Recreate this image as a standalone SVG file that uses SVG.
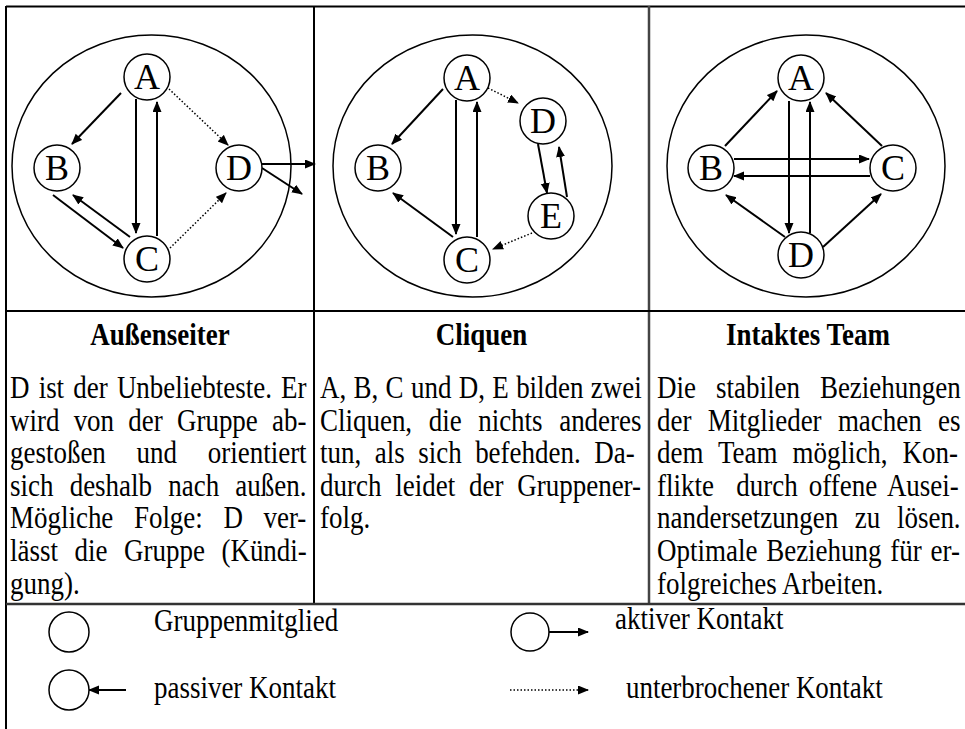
<svg xmlns="http://www.w3.org/2000/svg" width="965" height="729" viewBox="0 0 965 729">
<style>
.t{font-family:"Liberation Serif","Times New Roman",serif;font-size:31px;fill:#000}
.h{font-family:"Liberation Serif","Times New Roman",serif;font-size:31px;font-weight:bold;fill:#000;text-anchor:middle}
.n{font-family:"Liberation Serif","Times New Roman",serif;font-size:36px;fill:#000;text-anchor:middle}
.node{fill:#fff;stroke:#000;stroke-width:1.5}
.grp{fill:#fff;stroke:#000;stroke-width:1.5}
.a{stroke:#000;stroke-width:2;fill:none;marker-end:url(#ah)}
.d{stroke:#000;stroke-width:1.5;fill:none;stroke-dasharray:1.5 2;marker-end:url(#ah)}
.b{stroke:#000;stroke-width:2;fill:none}
</style>
<defs>
<marker id="ah" markerUnits="userSpaceOnUse" markerWidth="12" markerHeight="10" refX="10" refY="4.5" orient="auto">
<path d="M0,0 L11,4.5 L0,9 z" fill="#000"/>
</marker>
</defs>
<rect width="965" height="729" fill="#fff"/>
<g id="table">
<line class="b" x1="6" y1="6.5" x2="965" y2="6.5"/>
<line class="b" x1="6" y1="6" x2="6" y2="729"/>
<line class="b" x1="314" y1="6" x2="314" y2="604"/>
<line x1="649" y1="6" x2="649" y2="604" stroke="#444" stroke-width="2.5"/>
<line class="b" x1="6" y1="311" x2="965" y2="311"/>
<line x1="6" y1="604" x2="965" y2="604" stroke="#333" stroke-width="2.5"/>
</g>
<g id="group1"><ellipse class="grp" cx="151.5" cy="166" rx="139.5" ry="131"/></g>
<g id="group2"><ellipse class="grp" cx="472.5" cy="166" rx="139.5" ry="131"/></g>
<g id="group3"><ellipse class="grp" cx="806" cy="166" rx="139" ry="131"/></g>
<g id="connectors">
<line class="a" x1="121" y1="93" x2="72" y2="144"/>
<line class="a" x1="136" y1="99" x2="136" y2="233"/>
<line class="a" x1="157" y1="236" x2="157" y2="102"/>
<line class="a" x1="53" y1="195" x2="123" y2="248"/>
<line class="a" x1="130" y1="237" x2="73" y2="195"/>
<line class="d" x1="169" y1="89" x2="228" y2="145"/>
<line class="d" x1="170" y1="248" x2="226" y2="193"/>
<line class="a" x1="262" y1="164" x2="315" y2="164"/>
<line class="a" x1="262" y1="168" x2="302" y2="194"/>
<line class="a" x1="443" y1="89" x2="392" y2="144"/>
<line class="a" x1="456" y1="100" x2="456" y2="234"/>
<line class="a" x1="477" y1="237" x2="477" y2="102"/>
<line class="a" x1="453" y1="237" x2="393" y2="193"/>
<line class="d" x1="488" y1="88" x2="518" y2="103"/>
<line class="a" x1="538" y1="144" x2="547" y2="193"/>
<line class="a" x1="567" y1="197" x2="559" y2="147"/>
<line class="d" x1="532" y1="233" x2="493" y2="249"/>
<line class="a" x1="725" y1="146" x2="777" y2="91"/>
<line class="a" x1="882" y1="146" x2="826" y2="93"/>
<line class="a" x1="789" y1="101" x2="789" y2="233"/>
<line class="a" x1="810" y1="233" x2="810" y2="102"/>
<line class="a" x1="734" y1="159" x2="869" y2="159"/>
<line class="a" x1="870" y1="176" x2="734" y2="176"/>
<line class="a" x1="785" y1="237" x2="726" y2="195"/>
<line class="a" x1="823" y1="247" x2="881" y2="194"/>
<line class="a" x1="126" y1="690" x2="89" y2="690"/>
<line class="a" x1="549" y1="632" x2="588" y2="632"/>
<line class="d" x1="510" y1="690" x2="588" y2="690"/>
</g>
<g id="n1A"><circle class="node" cx="147" cy="77" r="23"/><text class="n" x="147" y="89">A</text></g>
<g id="n1B"><circle class="node" cx="57" cy="168" r="23"/><text class="n" x="57" y="180">B</text></g>
<g id="n1C"><circle class="node" cx="147" cy="259" r="23"/><text class="n" x="147" y="271">C</text></g>
<g id="n1D"><circle class="node" cx="239" cy="168" r="23"/><text class="n" x="239" y="180">D</text></g>
<g id="n2A"><circle class="node" cx="467" cy="78" r="23"/><text class="n" x="467" y="90">A</text></g>
<g id="n2B"><circle class="node" cx="378" cy="168" r="23"/><text class="n" x="378" y="180">B</text></g>
<g id="n2C"><circle class="node" cx="467" cy="260" r="23"/><text class="n" x="467" y="272">C</text></g>
<g id="n2D"><circle class="node" cx="543" cy="121" r="23"/><text class="n" x="543" y="133">D</text></g>
<g id="n2E"><circle class="node" cx="551" cy="216" r="23"/><text class="n" x="551" y="228">E</text></g>
<g id="n3A"><circle class="node" cx="801" cy="78" r="23"/><text class="n" x="801" y="90">A</text></g>
<g id="n3B"><circle class="node" cx="711" cy="168" r="23"/><text class="n" x="711" y="180">B</text></g>
<g id="n3C"><circle class="node" cx="893" cy="168" r="23"/><text class="n" x="893" y="180">C</text></g>
<g id="n3D"><circle class="node" cx="801" cy="255" r="23"/><text class="n" x="801" y="267">D</text></g>
<g id="titles" transform="scale(0.87,1)">
<text class="h" x="183.9" y="345">Außenseiter</text>
<text class="h" x="553.4" y="345">Cliquen</text>
<text class="h" x="928.7" y="345">Intaktes Team</text>
</g>
<g id="text1" transform="scale(0.87,1)">
<text class="t" x="11.5" y="398" word-spacing="2.8">D ist der Unbeliebteste. Er</text>
<text class="t" x="11.5" y="431" word-spacing="8.6">wird von der Gruppe ab-</text>
<text class="t" x="11.5" y="463" word-spacing="27.6">gestoßen und orientiert</text>
<text class="t" x="11.5" y="496" word-spacing="10.9">sich deshalb nach außen.</text>
<text class="t" x="11.5" y="528" word-spacing="15.9">Mögliche Folge: D ver-</text>
<text class="t" x="11.5" y="561" word-spacing="11.3">lässt die Gruppe (Kündi-</text>
<text class="t" x="11.5" y="594">gung).</text>
</g>
<g id="text2" transform="scale(0.87,1)">
<text class="t" x="367.8" y="398" word-spacing="0.7">A, B, C und D, E bilden zwei</text>
<text class="t" x="367.8" y="431" word-spacing="11.3">Cliquen, die nichts anderes</text>
<text class="t" x="367.8" y="463" word-spacing="7.8">tun, als sich befehden. Da-</text>
<text class="t" x="367.8" y="496" word-spacing="8.2">durch leidet der Gruppener-</text>
<text class="t" x="367.8" y="528">folg.</text>
</g>
<g id="text3" transform="scale(0.87,1)">
<text class="t" x="755.2" y="398" word-spacing="15.3">Die stabilen Beziehungen</text>
<text class="t" x="755.2" y="431" word-spacing="11">der Mitglieder machen es</text>
<text class="t" x="755.2" y="463" word-spacing="9.5">dem Team möglich, Kon-</text>
<text class="t" x="755.2" y="496" word-spacing="5.1" style="white-space:pre">flikte  durch offene Ausei-</text>
<text class="t" x="755.2" y="528" word-spacing="11.4">nandersetzungen zu lösen.</text>
<text class="t" x="755.2" y="561" word-spacing="2.4">Optimale Beziehung für er-</text>
<text class="t" x="755.2" y="594">folgreiches Arbeiten.</text>
</g>
<g id="legend">
<circle class="node" cx="69" cy="632" r="20"/>
<circle class="node" cx="530" cy="632" r="19"/>
<circle class="node" cx="69" cy="690" r="20"/>
<g transform="scale(0.87,1)">
<text class="t" x="177" y="631">Gruppenmitglied</text>
<text class="t" x="706.9" y="629">aktiver Kontakt</text>
<text class="t" x="177" y="698">passiver Kontakt</text>
<text class="t" x="719.5" y="698">unterbrochener Kontakt</text>
</g>
</g>
</svg>
